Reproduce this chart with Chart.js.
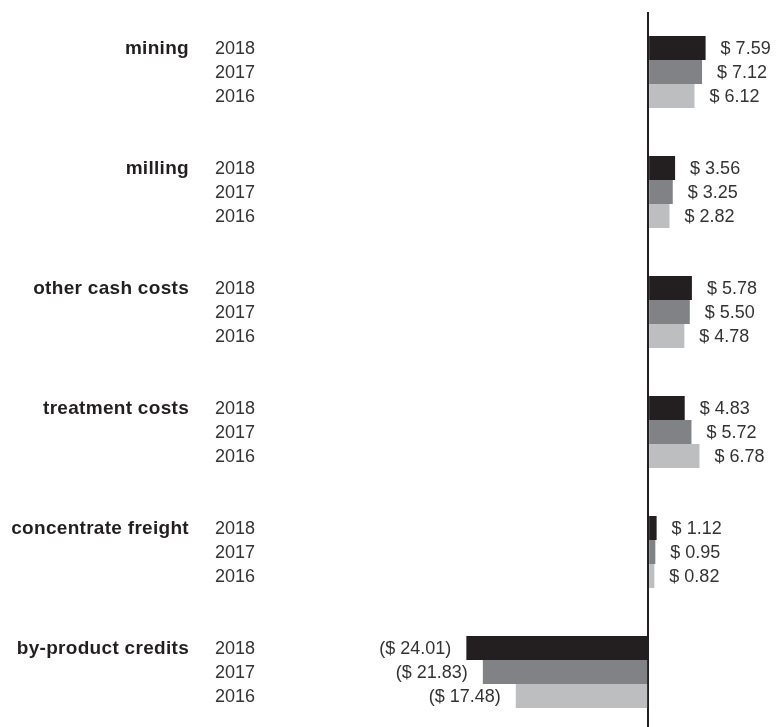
<!DOCTYPE html>
<html>
<head>
<meta charset="utf-8">
<title>Cash cost breakdown</title>
<script src="https://cdn.jsdelivr.net/npm/chart.js@4.4.0/dist/chart.umd.min.js"></script>
<style>
	html, body { margin: 0; padding: 0; background: #fff; overflow: hidden; }
	#wrap { width: 776px; height: 727px; overflow: hidden; }
</style>
</head>
<body>
<div id="wrap"><canvas id="chart" width="776" height="740"></canvas></div>
<script>
// :: 1.0 Data
var categories = ['mining', 'milling', 'other cash costs', 'treatment costs', 'concentrate freight', 'by-product credits'];
var years = ['2018', '2017', '2016'];
var values2018 = [7.59, 3.56, 5.78, 4.83, 1.12, -24.01];
var values2017 = [7.12, 3.25, 5.50, 5.72, 0.95, -21.83];
var values2016 = [6.12, 2.82, 4.78, 6.78, 0.82, -17.48];
var xTicks = [0];

(function () {
	'use strict';

	var colors = ['#231f20', '#808285', '#bcbec0'];
	var series = [values2018, values2017, values2016];

	function fmt(v) {
		var s = '$ ' + Math.abs(v).toFixed(2);
		return v < 0 ? '(' + s + ')' : s;
	}

	// :: 2.0 Labels plugin (category names, years, values)
	var labelsPlugin = {
		id: 'sideLabels',
		afterDatasetsDraw: function (chart) {
			var ctx = chart.ctx;
			ctx.save();
			ctx.textBaseline = 'middle';

			chart.data.datasets.forEach(function (ds, di) {
				var meta = chart.getDatasetMeta(di);
				meta.data.forEach(function (bar, i) {
					var v = ds.data[i];

					// year
					ctx.font = '18px "Liberation Sans", Arial, sans-serif';
					ctx.fillStyle = '#333';
					ctx.textAlign = 'left';
					ctx.fillText(years[di], 215, bar.y + 1);

					// value
					if (v < 0) {
						ctx.textAlign = 'right';
						ctx.fillText(fmt(v), bar.x - 15, bar.y + 1);
					} else {
						ctx.textAlign = 'left';
						ctx.fillText(fmt(v), bar.x + 15, bar.y + 1);
					}

					// category name next to the first year
					if (di === 0) {
						ctx.font = 'bold 19px "Liberation Sans", Arial, sans-serif';
						ctx.letterSpacing = '0.3px';
						ctx.fillStyle = '#231f20';
						ctx.textAlign = 'right';
						ctx.fillText(categories[i], 189, bar.y + 1);
						ctx.letterSpacing = '0px';
					}
				});
			});
			ctx.restore();
		}
	};

	// :: 3.0 Chart
	var ctx = document.getElementById('chart').getContext('2d');
	new Chart(ctx, {
		type: 'bar',
		data: {
			labels: categories,
			datasets: series.map(function (d, i) {
				return {
					label: years[i],
					data: d,
					backgroundColor: colors[i],
					borderWidth: 0,
					barPercentage: 1.0,
					categoryPercentage: 0.6
				};
			})
		},
		options: {
			indexAxis: 'y',
			responsive: false,
			animation: false,
			layout: {
				padding: { left: 421, right: 37, top: 12, bottom: 8 }
			},
			scales: {
				x: {
					min: -30,
					max: 12,
					afterBuildTicks: function (axis) {
						axis.ticks = xTicks.map(function (v) { return { value: v }; });
					},
					border: { display: false },
					grid: {
						color: '#231f20',
						lineWidth: 2,
						drawTicks: false
					},
					ticks: { display: false }
				},
				y: {
					display: false
				}
			},
			plugins: {
				legend: { display: false },
				tooltip: { enabled: false }
			}
		},
		plugins: [labelsPlugin]
	});
}());
</script>
</body>
</html>
